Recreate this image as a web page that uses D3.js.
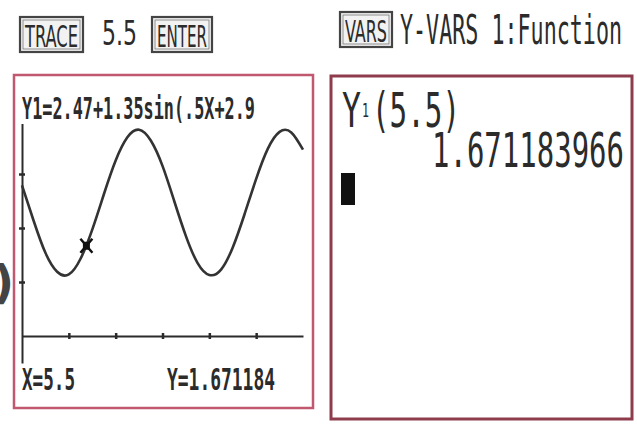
<!DOCTYPE html>
<html>
<head>
<meta charset="utf-8">
<script src="https://cdn.jsdelivr.net/npm/d3@7"></script>
<style>
  body { margin: 0; background: #fff; }
  svg { display: block; }
</style>
</head>
<body>
<div id="chart"></div>
<script>
// curve samples (X window 0..24, Y window -0.5..4)
var curveX = [0, 1, 2, 3, 4, 5, 6, 7, 8, 9, 10, 11, 12, 13, 14, 15, 16, 17, 18, 19, 20, 21, 22, 23, 24];
var curveY = [2.79, 2.13, 1.54, 1.19, 1.14, 1.43, 1.97, 2.63, 3.25, 3.68, 3.82, 3.62, 3.15, 2.50,
              1.85, 1.35, 1.13, 1.23, 1.64, 2.25, 2.91, 3.47, 3.78, 3.77, 3.45];
var xTicks = [4, 8, 12, 16, 20];
var yTicks = [1, 2, 3];
var traceX = 5.5;
var traceY = 1.671184;

var equationText = "Y1=2.47+1.35sin(.5X+2.9";
var traceXText = "X=5.5";
var traceYText = "Y=1.671184";
var homeResult = "1.671183966";

var svgWidth = 637;
var svgHeight = 425;

var svg = d3.select("#chart")
    .append("svg")
    .attr("width", svgWidth)
    .attr("height", svgHeight);

var ink = "#2b2b2b";
var mono = "'DejaVu Sans Mono', monospace";
var narrow = "'DejaVu Sans Condensed', 'DejaVu Sans', sans-serif";

// squeezed text helper, the TI font is tall and narrow
function label(str, x, baseline, size, width, family, weight) {
    return svg.append("text")
        .attr("x", x)
        .attr("y", baseline)
        .attr("font-family", family || mono)
        .attr("font-weight", weight || "bold")
        .attr("font-size", size)
        .attr("textLength", width)
        .attr("lengthAdjust", "spacingAndGlyphs")
        .attr("fill", ink)
        .text(str);
}

function keyBox(str, x, y, w, h) {
    svg.append("rect")
        .attr("x", x).attr("y", y).attr("width", w).attr("height", h)
        .attr("fill", "#f2f2f2").attr("stroke", "#444").attr("stroke-width", 2.2);
    svg.append("rect")
        .attr("x", x + 3).attr("y", y + 3).attr("width", w - 6).attr("height", h - 6)
        .attr("fill", "none").attr("stroke", "#777").attr("stroke-width", 0.8);
    label(str, x + 5, y + h - 5, 30, w - 10, narrow, "normal");
}

// key strokes above the screens
keyBox("TRACE", 20, 17, 63, 35);
label("5.5", 102, 45, 34, 35, narrow, "normal");
keyBox("ENTER", 152, 17, 60, 35);
keyBox("VARS", 340, 12, 52, 35);
label("Y-VARS 1:Function", 400, 44, 40, 222, mono, "normal");

// stray bracket at the page edge
svg.append("text")
    .attr("x", -7).attr("y", 298)
    .attr("font-family", "'DejaVu Sans', sans-serif")
    .attr("font-weight", "bold")
    .attr("font-size", 46)
    .attr("fill", "#444")
    .text(")");

// screen frames
svg.append("rect")
    .attr("x", 14).attr("y", 75).attr("width", 299).attr("height", 333)
    .attr("fill", "#fff").attr("stroke", "#c0586f").attr("stroke-width", 2.5);
svg.append("rect")
    .attr("x", 331).attr("y", 76).attr("width", 301).attr("height", 343)
    .attr("fill", "#fff").attr("stroke", "#8e3c4c").attr("stroke-width", 3);

// graph screen
var x = d3.scaleLinear().domain([0, 24]).range([22, 303]);
var y = d3.scaleLinear().domain([-0.5, 4]).range([363, 120]);

var xAxis = svg.append("g")
    .attr("transform", "translate(0," + y(0) + ")")
    .call(d3.axisBottom(x).tickValues(xTicks).tickSize(3).tickSizeOuter(0).tickFormat(""));
var yAxis = svg.append("g")
    .attr("transform", "translate(" + x(0) + ",0)")
    .call(d3.axisLeft(y).tickValues(yTicks).tickSize(3).tickSizeOuter(0).tickFormat(""));

[xAxis, yAxis].forEach(function (g) {
    g.select(".domain").attr("stroke", ink).attr("stroke-width", 2);
    g.selectAll(".tick line").attr("stroke", ink).attr("stroke-width", 2.5);
});
xAxis.selectAll(".tick line").attr("y1", -3).attr("y2", 3);
yAxis.selectAll(".tick line").attr("x1", -3).attr("x2", 3);

var points = curveX.map(function (d, i) { return [d, curveY[i]]; });
var line = d3.line()
    .x(function (d) { return x(d[0]); })
    .y(function (d) { return y(d[1]); })
    .curve(d3.curveNatural);

svg.append("path")
    .datum(points)
    .attr("d", line)
    .attr("fill", "none")
    .attr("stroke", "#333")
    .attr("stroke-width", 2.6);

// trace cursor
var cx = x(traceX), cy = y(traceY);
svg.append("path")
    .attr("d", "M" + (cx - 6) + "," + (cy - 7) + "L" + (cx + 6) + "," + (cy + 7) +
               "M" + (cx + 6) + "," + (cy - 7) + "L" + (cx - 6) + "," + (cy + 7))
    .attr("stroke", "#111").attr("stroke-width", 2.5);
svg.append("rect")
    .attr("x", cx - 3.5).attr("y", cy - 4).attr("width", 7).attr("height", 8)
    .attr("fill", "#111");

// equation line sits over the top of the graph
svg.append("rect")
    .attr("x", 17).attr("y", 88).attr("width", 292).attr("height", 36)
    .attr("fill", "#fff");
label(equationText, 22, 119, 31, 233);
label(traceXText, 22, 390, 31, 53);
label(traceYText, 167, 390, 31, 108);

// home screen
label("Y", 342, 127, 48, 19, mono, "normal");
label("1", 362, 117, 20, 7, mono, "normal");
label("(5.5)", 372, 127, 48, 88, mono, "normal");
label(homeResult, 432, 167, 48, 192, mono, "normal");
svg.append("rect")
    .attr("x", 341).attr("y", 173).attr("width", 14).attr("height", 32)
    .attr("fill", "#111");
</script>
</body>
</html>
